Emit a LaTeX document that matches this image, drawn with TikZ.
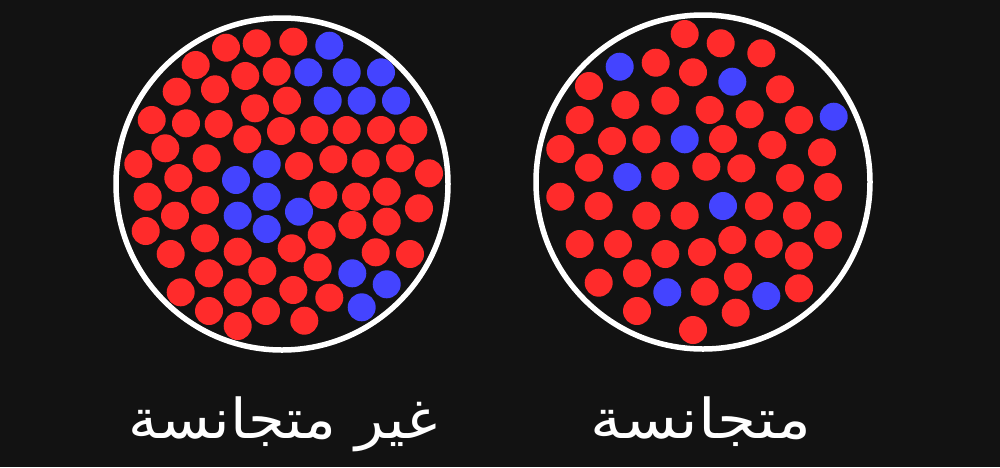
\documentclass[tikz,border=0pt]{standalone}
\usepackage{graphicx}
\usepackage{fontspec}
\newfontfamily\arabicfont[Script=Arabic]{DejaVu Sans}
\TeXXeTstate=1
\definecolor{bg}{HTML}{121212}
\definecolor{dotred}{HTML}{FF2B2B}
\definecolor{dotblue}{HTML}{4444FF}
\begin{document}
\begin{tikzpicture}[x=1pt,y=-1pt,
  ring/.style={draw=white, line width=5.5pt},
  lbl/.style={text=white, anchor=base, inner sep=0pt, font=\arabicfont\fontsize{55}{60}\selectfont}]
\fill[bg] (0,0) rectangle (1000,467);
\useasboundingbox (0,0) rectangle (1000,467);
% left circle
\draw[ring] (282,184) circle[radius=166];
\foreach \x/\y in {226/47.7, 256.7/43.3, 293.3/41.7,
  195.7/65, 245.3/76, 276.7/71.7,
  176.7/91.7, 215/89.3, 255/108.3, 287/100.7,
  151.7/120, 186/123.3, 218.7/124, 247.3/139.3, 281/131, 314.3/130, 346.7/130, 381/130, 413.3/130,
  165.3/148.3, 206.7/158.3, 138.3/164, 299/166, 333.3/159.3, 365.7/163.3, 400/158.3, 429/173.3,
  178.3/178, 147.7/196.7, 205/200, 323.3/195, 356/196.7, 386.7/191.7,
  175/215.7, 145.7/231, 205/238.3, 321.7/235, 352.3/225, 386.7/221.7, 419/208.3,
  170.7/254, 237.7/251.7, 291.7/248.3, 375.7/252.3, 410/254,
  209/273.3, 262.3/271, 317.7/267.3,
  180.7/292.3, 237.7/292.3, 293.3/290, 329.3/297.7,
  209/311, 266/311, 304.3/320.7, 237.7/326}
  \fill[dotred] (\x,\y) circle[radius=14];
\foreach \x/\y in {329.3/45.7, 308.3/72.3, 346.7/72.3, 381/72.3, 327.7/100.7, 361.7/100.7, 396/100.7,
  266.7/164, 236/180, 266.7/196.7, 237.7/215.7, 266.7/229, 299/211.7,
  352.3/273.3, 386.7/284.3, 361.7/307.3}
  \fill[dotblue] (\x,\y) circle[radius=14];
% right circle
\draw[ring] (703,182) circle[radius=167];
\foreach \x/\y in {684.7/34, 720.7/43.3, 761.3/53.3, 655.7/62.7, 693/72.3, 589/86, 780/89.3,
  625.3/105, 665.3/100.7, 709.7/110, 749.7/114.3, 799/120, 579.7/120,
  612/141, 646.3/139.3, 723/139, 772.3/145, 822/152.3, 560.3/149,
  589/167.7, 665.3/176, 706.3/166.7, 741.3/168.3, 790/178, 828/187,
  560.3/196.7, 598.7/206, 646.3/215.7, 684.7/215.7, 759/206, 797/215.7, 828/235,
  579.7/244, 618/244, 665.3/254, 702/252, 732.3/240, 768.7/244, 799/255.7,
  598.7/282.7, 637/273.3, 704.7/291.7, 738/276.7, 799/288.3,
  637/311, 693/330, 735.7/312.7}
  \fill[dotred] (\x,\y) circle[radius=14];
\foreach \x/\y in {619.7/66.7, 732.3/81.7, 684.7/139.3, 833.7/116.7, 627.3/177, 723/206, 667.3/292.3, 766.3/296}
  \fill[dotblue] (\x,\y) circle[radius=14];
% labels
\node[lbl] (hetero) at (283,438) {\scalebox{1.08}[1]{\beginR غير متجانسة\endR}};
\node[lbl] (homo) at (701,438) {\scalebox{1.15}[1]{\beginR متجانسة\endR}};
\end{tikzpicture}
\end{document}
